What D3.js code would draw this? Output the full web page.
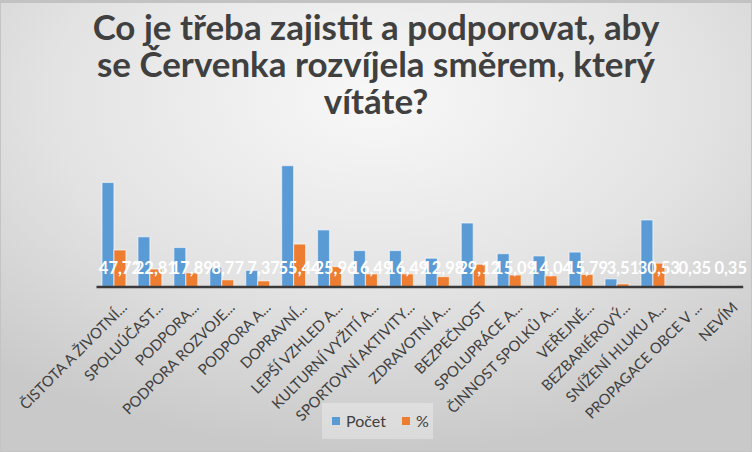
<!DOCTYPE html>
<html>
<head>
<meta charset="utf-8">
<script src="https://cdn.jsdelivr.net/npm/d3@7/dist/d3.min.js"></script>
<style>
  html, body { margin: 0; padding: 0; background: #fff; }
  svg { display: block; }
</style>
</head>
<body>
<svg id="chart" width="752" height="452"></svg>
<script>
const categories = [
  "ČISTOTA A ŽIVOTNÍ...", "SPOLUÚČAST...", "PODPORA...", "PODPORA ROZVOJE...",
  "PODPORA A...", "DOPRAVNÍ...", "LEPŠÍ VZHLED A...", "KULTURNÍ VYŽITÍ A...",
  "SPORTOVNÍ AKTIVITY...", "ZDRAVOTNÍ A...", "BEZPEČNOST", "SPOLUPRÁCE A...",
  "ČINNOST SPOLKŮ A...", "VEŘEJNÉ...", "BEZBARIÉROVÝ...", "SNÍŽENÍ HLUKU A...",
  "PROPAGACE OBCE V ...", "NEVÍM"
];
const counts = [136, 65, 51, 25, 21, 158, 74, 47, 47, 37, 83, 43, 40, 45, 10, 87, 1, 1];
const percents = [47.72, 22.81, 17.89, 8.77, 7.37, 55.44, 25.96, 16.49, 16.49, 12.98, 29.12, 15.09, 14.04, 15.79, 3.51, 30.53, 0.35, 0.35];
const seriesNames = ["Počet", "%"];
const seriesColors = ["#5B9BD5", "#ED7D31"];
const titleLines = ["Co je třeba zajistit a podporovat, aby", "se Červenka rozvíjela směrem, který", "vítáte?"];
const yMax = 180;

const W = 752, H = 452;
const svg = d3.select("#chart");
const FONT = "Lato, 'Open Sans', sans-serif";

// background
const defs = svg.append("defs");
const grad = defs.append("radialGradient").attr("id", "bg")
  .attr("cx", "50%").attr("cy", "22%").attr("r", "78%")
  .attr("fx", "50%").attr("fy", "22%");
grad.append("stop").attr("offset", "0%").attr("stop-color", "#f8f8f8");
grad.append("stop").attr("offset", "55%").attr("stop-color", "#e3e3e3");
grad.append("stop").attr("offset", "100%").attr("stop-color", "#c9c9c9");
svg.append("rect").attr("width", W).attr("height", H).attr("fill", "url(#bg)");
svg.append("rect").attr("x", 0.5).attr("y", 0.5).attr("width", W - 1).attr("height", H - 1)
  .attr("fill", "none").attr("stroke", "#c4c4c4").attr("stroke-width", 1);
svg.append("line").attr("x1", 0).attr("x2", W).attr("y1", 1.5).attr("y2", 1.5)
  .attr("stroke", "#c2c2c2").attr("stroke-width", 3);

// title
const titleG = svg.append("g").attr("font-family", FONT).attr("font-weight", "bold").attr("fill", "#404040");
const probe = titleG.append("text").attr("font-size", 30).text(titleLines[0]);
const fitSize = 30 * 567 / probe.node().getComputedTextLength();
probe.remove();
titleLines.forEach((t, i) => {
  titleG.append("text").attr("x", 376).attr("y", 40 + i * 37)
    .attr("text-anchor", "middle").attr("font-size", fitSize).text(t);
});

// scales
const x0 = d3.scaleBand().domain(categories).range([96, 742.7]).padding(0);
const x1 = d3.scaleBand().domain(seriesNames).range([0, x0.bandwidth()]).paddingInner(0).paddingOuter(0.5);
const y = d3.scaleLinear().domain([0, yMax]).range([286.5, 148.8]);

const seriesData = [counts, percents];

// bars
seriesNames.forEach((s, si) => {
  svg.append("g").selectAll("rect")
    .data(categories.map((c, i) => ({ c, v: seriesData[si][i] })))
    .join("rect")
    .attr("x", d => x0(d.c) + x1(s))
    .attr("y", d => y(d.v))
    .attr("width", x1.bandwidth())
    .attr("height", d => y(0) - y(d.v))
    .attr("fill", seriesColors[si])
    .attr("stroke", "rgba(255,255,255,0.55)")
    .attr("stroke-width", 1.2);
});

// axis
const xAxis = d3.axisBottom(x0).tickSize(0).tickFormat("");
const axG = svg.append("g").attr("transform", `translate(0,${y(0)})`).call(xAxis);
axG.select(".domain").attr("stroke", "#3a3a3a").attr("stroke-width", 2.6);

// category labels
svg.append("g").selectAll("text")
  .data(categories)
  .join("text")
  .attr("transform", d => `translate(${x0(d) + x0.bandwidth() / 2 + 14},${y(0) + 22}) rotate(-45)`)
  .attr("text-anchor", "end")
  .attr("font-family", FONT)
  .attr("font-size", 14.8)
  .attr("fill", "#404040")
  .text(d => d);

// data labels (% series)
svg.append("g").selectAll("text")
  .data(categories.map((c, i) => ({ c, v: percents[i] })))
  .join("text")
  .attr("x", d => x0(d.c) + x1("%") + x1.bandwidth() / 2)
  .attr("y", y(0) - 12.5)
  .attr("text-anchor", "middle")
  .attr("font-family", FONT)
  .attr("font-weight", "bold")
  .attr("font-size", 16.5)
  .attr("fill", "#ffffff")
  .text(d => d3.format(".2f")(d.v).replace(".", ","));

// legend
const lg = svg.append("g").attr("font-family", FONT).attr("font-size", 16).attr("fill", "#404040");
lg.append("rect").attr("x", 322).attr("y", 403).attr("width", 111).attr("height", 36)
  .attr("fill", "rgba(255,255,255,0.3)");
const legendItems = [{ n: seriesNames[0], c: seriesColors[0], x: 332 }, { n: seriesNames[1], c: seriesColors[1], x: 402 }];
legendItems.forEach(it => {
  lg.append("rect").attr("x", it.x).attr("y", 417).attr("width", 8).attr("height", 8).attr("fill", it.c);
  lg.append("text").attr("x", it.x + 14).attr("y", 427).text(it.n);
});
</script>
</body>
</html>
